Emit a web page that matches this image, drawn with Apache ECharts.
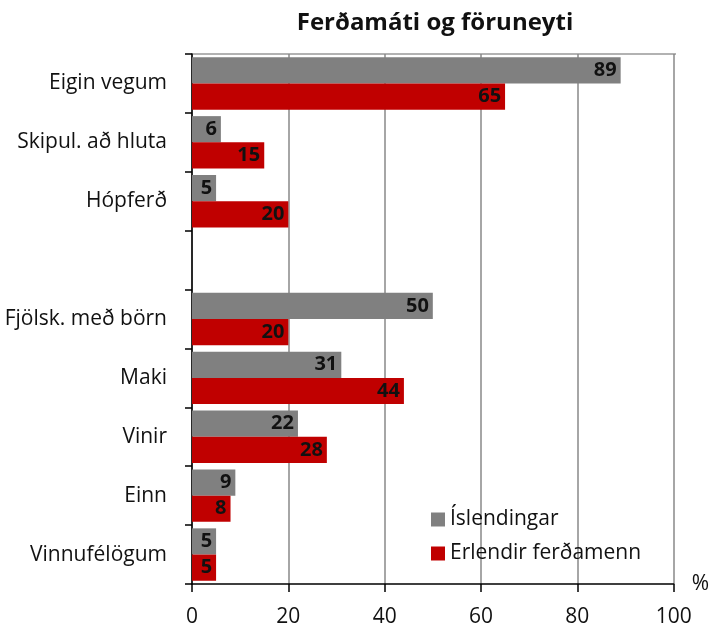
<!DOCTYPE html>
<html>
<head>
<meta charset="utf-8">
<script src="https://cdn.jsdelivr.net/npm/echarts@6/dist/echarts.min.js"></script>
<style>
  html, body { margin: 0; padding: 0; background: #fff; }
  #chart { width: 712px; height: 628px; }
</style>
</head>
<body>
<div id="chart"></div>
<script>
const categories = ['Eigin vegum', 'Skipul. að hluta', 'Hópferð', '', 'Fjölsk. með börn', 'Maki', 'Vinir', 'Einn', 'Vinnufélögum']
const islendingar = [89, 6, 5, null, 50, 31, 22, 9, 5]
const erlendir = [65, 15, 20, null, 20, 44, 28, 8, 5]
const xTicks = [0, 20, 40, 60, 80, 100]

const font = '"Open Sans", Lato, sans-serif'
const chart = echarts.init(document.getElementById('chart'))

const label = {
  show: true,
  position: 'insideRight',
  distance: 4,
  color: '#111',
  fontWeight: 'bold',
  fontSize: 20,
  fontFamily: font,
}

chart.setOption({
  animation: false,
  title: {
    text: 'Ferðamáti og föruneyti',
    left: 430,
    top: 6,
    textAlign: 'center',
    textStyle: { fontFamily: font, fontSize: 24, fontWeight: 'bold', color: '#111' },
  },
  legend: {
    orient: 'vertical',
    left: 426,
    top: 504,
    itemWidth: 14,
    itemHeight: 14,
    itemGap: 13,
    icon: 'rect',
    textStyle: { fontFamily: font, fontSize: 21, color: '#111' },
    data: ['Íslendingar', 'Erlendir ferðamenn'],
  },
  grid: { left: 192, right: 36, top: 54, bottom: 44 },
  xAxis: {
    type: 'value',
    min: 0,
    max: 100,
    interval: 20,
    name: '%',
    nameLocation: 'end',
    nameGap: 18,
    nameTextStyle: { fontFamily: font, fontSize: 21, color: '#111', padding: [0, 0, 6, 0] },
    axisLine: { show: true, lineStyle: { color: '#000', width: 1.5 } },
    axisTick: { show: true, length: 8, lineStyle: { color: '#000', width: 1.5 } },
    axisLabel: {
      fontFamily: font, fontSize: 21, color: '#111', margin: 23,
      formatter: v => (xTicks.includes(v) ? String(v) : ''),
    },
    splitLine: { show: true, lineStyle: { color: '#888', width: 1.5 } },
  },
  yAxis: {
    type: 'category',
    inverse: true,
    data: categories,
    axisLine: { show: true, lineStyle: { color: '#000', width: 1.5 } },
    axisTick: { show: true, length: 7, lineStyle: { color: '#000', width: 1.5 } },
    axisLabel: { fontFamily: font, fontSize: 21, color: '#111', margin: 25 },
  },
  graphic: [{
    type: 'line',
    shape: { x1: 192, y1: 54, x2: 676, y2: 54 },
    style: { stroke: '#999', lineWidth: 1.5 },
  }],
  series: [
    {
      name: 'Íslendingar',
      type: 'bar',
      data: islendingar,
      barGap: '0%',
      barCategoryGap: '11%',
      itemStyle: { color: '#808080' },
      label,
    },
    {
      name: 'Erlendir ferðamenn',
      type: 'bar',
      data: erlendir,
      itemStyle: { color: '#c00000' },
      label,
    },
  ],
})
</script>
</body>
</html>
